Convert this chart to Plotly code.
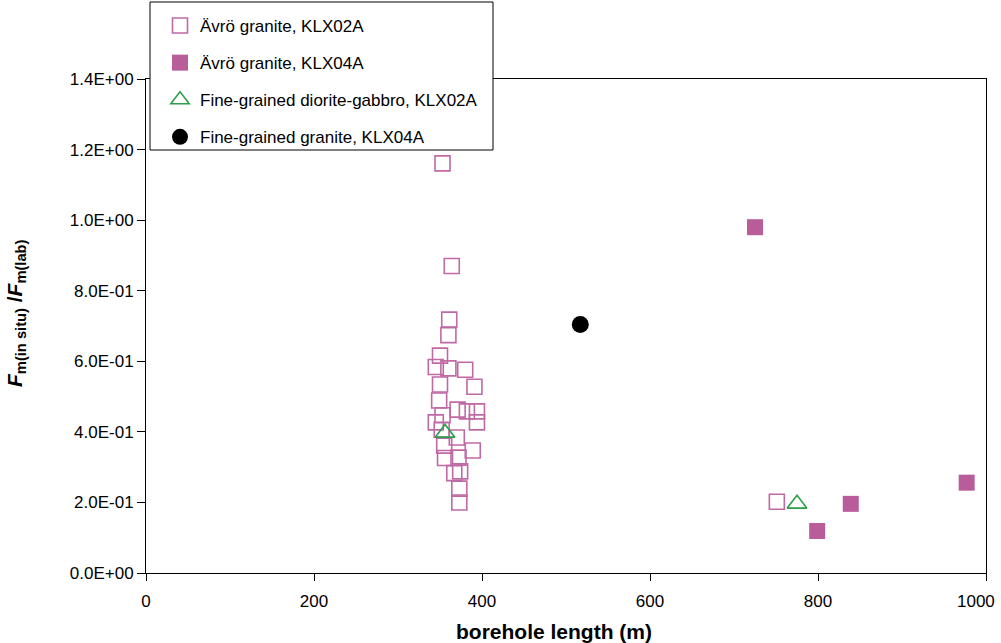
import plotly.graph_objects as go

# ---- data ----
avro_klx02a_x = [353, 364, 361, 360, 350, 345, 360, 380, 350, 391, 349, 371, 382, 394,
                 353, 345, 394, 352, 355, 370, 389, 356, 372, 367, 374, 373, 373, 751]
avro_klx02a_y = [1.161, 0.870, 0.718, 0.674, 0.616, 0.584, 0.580, 0.576, 0.534, 0.528,
                 0.489, 0.463, 0.458, 0.458, 0.447, 0.427, 0.427, 0.406, 0.361, 0.384,
                 0.347, 0.326, 0.327, 0.283, 0.288, 0.239, 0.200, 0.202]

avro_klx04a_x = [725, 799, 839, 977]
avro_klx04a_y = [0.98, 0.119, 0.196, 0.256]

diorite_klx02a_x = [356, 775]
diorite_klx02a_y = [0.397, 0.196]

finegranite_klx04a_x = [517]
finegranite_klx04a_y = [0.704]

y_tickvals = [0.0, 0.2, 0.4, 0.6, 0.8, 1.0, 1.2, 1.4]
y_ticktext = ["0.0E+00", "2.0E-01", "4.0E-01", "6.0E-01", "8.0E-01", "1.0E+00", "1.2E+00", "1.4E+00"]
x_tickvals = [0, 200, 400, 600, 800, 1000]
x_ticktext = ["0", "200", "400", "600", "800", ""]
x_last_label = "1000"

PINK = "#B85C9A"
PINK_LINE = "#C06AA5"
GREEN = "#2BA04A"
FONT = "Liberation Sans, Arial, sans-serif"

fig = go.Figure()
fig.add_trace(go.Scatter(
    x=avro_klx02a_x, y=avro_klx02a_y, mode="markers", name="Ävrö granite, KLX02A",
    legendgroup="a",
    marker=dict(symbol="square-open", size=15, color=PINK_LINE, line=dict(width=1.6, color=PINK_LINE))))
fig.add_trace(go.Scatter(
    x=avro_klx04a_x, y=avro_klx04a_y, mode="markers", name="Ävrö granite, KLX04A",
    legendgroup="b",
    marker=dict(symbol="square", size=16, color=PINK, line=dict(width=0))))
fig.add_trace(go.Scatter(
    x=diorite_klx02a_x, y=diorite_klx02a_y, mode="markers", name="Fine-grained diorite-gabbro, KLX02A",
    legendgroup="c",
    marker=dict(symbol="triangle-up-open", size=17, color=GREEN, line=dict(width=1.6, color=GREEN))))
fig.add_trace(go.Scatter(
    x=finegranite_klx04a_x, y=finegranite_klx04a_y, mode="markers", name="Fine-grained granite, KLX04A",
    legendgroup="d",
    marker=dict(symbol="circle", size=17, color="black", line=dict(width=0))))

L, R, T, B = 146, 15, 79, 70
W, H = 1001, 643
pw, ph = W - L - R, H - T - B

def px2paper_x(px):
    return (px - L) / pw

def px2paper_y(py):
    return (H - B - py) / ph

fig.update_layout(
    width=W, height=H,
    margin=dict(l=L, r=R, t=T, b=B, pad=0, autoexpand=False),
    paper_bgcolor="white", plot_bgcolor="white",
    font=dict(family=FONT, size=17, color="black"),
    showlegend=True,
    legend=dict(
        x=px2paper_x(160), y=px2paper_y(8), xanchor="left", yanchor="top",
        bgcolor="rgba(0,0,0,0)", borderwidth=0,
        traceorder="grouped", tracegroupgap=12,
        font=dict(family=FONT, size=17, color="black"),
        itemsizing="trace",
    ),
    xaxis=dict(
        range=[0, 1000], tickvals=x_tickvals, ticktext=x_ticktext, ticks="outside", ticklen=7,
        tickwidth=1, ticklabelstandoff=6, automargin=False,
        tickcolor="black", showline=True, linecolor="black", linewidth=1, mirror=True,
        showgrid=False, zeroline=False, tickfont=dict(size=17),
    ),
    yaxis=dict(
        range=[0, 1.4], tickvals=y_tickvals, ticktext=y_ticktext, ticks="outside", ticklen=8,
        tickwidth=1, tickcolor="black", showline=True, linecolor="black", linewidth=1,
        mirror=True, showgrid=False, zeroline=False, tickfont=dict(size=17), automargin=False,
    ),
    shapes=[dict(type="rect", xref="paper", yref="paper",
                 x0=px2paper_x(150), x1=px2paper_x(493), y0=px2paper_y(150), y1=px2paper_y(2),
                 line=dict(color="black", width=1), fillcolor="white", layer="above")],
    annotations=[
        dict(text=x_last_label, xref="x", yref="paper", x=x_tickvals[-1],
             y=px2paper_y(601), xanchor="right", yanchor="middle", xshift=11,
             showarrow=False, font=dict(size=17)),
        dict(text="<b>borehole length (m)</b>", xref="paper", yref="paper",
             x=px2paper_x(554), y=px2paper_y(631), xanchor="center", yanchor="middle",
             showarrow=False, font=dict(size=21)),
        dict(text="<b><i>F</i><sub>m(in situ)</sub> /<i>F</i><sub>m(lab)</sub></b>",
             xref="paper", yref="paper", textangle=-90,
             x=px2paper_x(16), y=px2paper_y(313), xanchor="center", yanchor="middle",
             showarrow=False, font=dict(size=21)),
    ],
)

fig.write_html("out.html")
